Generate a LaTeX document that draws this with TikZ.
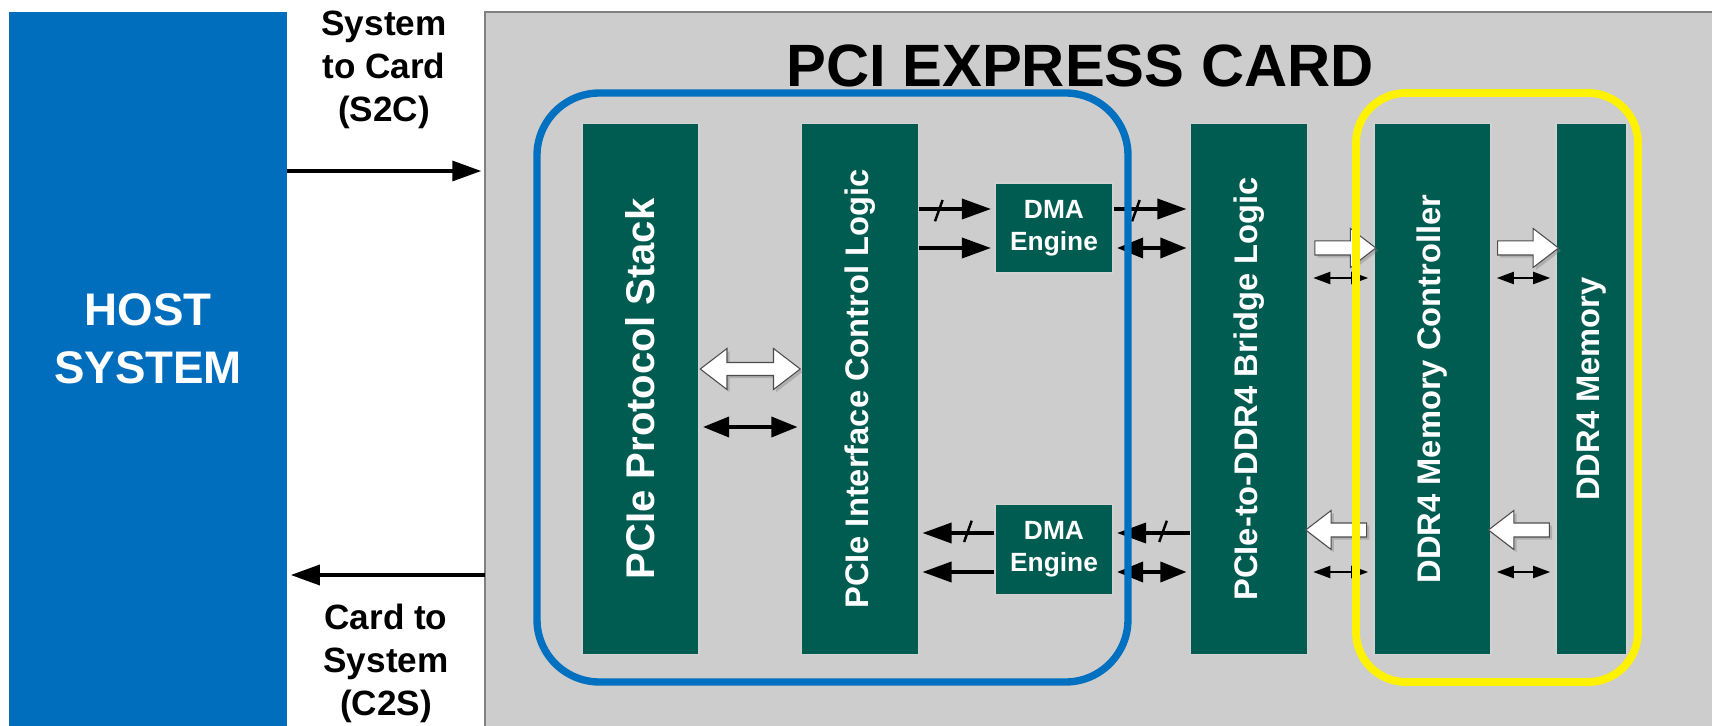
\documentclass[tikz,border=0pt]{standalone}
\usepackage{fontspec}
\setmainfont{Liberation Sans}
\usepackage{tikz}
\usetikzlibrary{arrows.meta,calc,shapes.arrows,shadows,decorations.markings}

\definecolor{hostblue}{RGB}{0,110,188}
\definecolor{frameblue}{RGB}{0,112,192}
\definecolor{cardgrey}{RGB}{205,205,205}
\definecolor{blockgreen}{RGB}{0,92,80}

\tikzset{
  blockv/.style={rectangle, fill=blockgreen, draw=gray!35, line width=0.6pt,
    text=white, font=\bfseries\fontsize{18.6}{22}\selectfont,
    minimum width=2.34cm, minimum height=10.64cm, inner sep=0pt},
  dmabox/.style={rectangle, fill=blockgreen, draw=gray!35, line width=0.6pt,
    text=white, font=\bfseries\fontsize{15}{18.2}\selectfont, align=center,
    minimum width=2.36cm, minimum height=1.8cm, inner sep=0pt},
  bus/.style={line width=2pt, -{Triangle[length=0.58cm,width=0.4cm]}, shorten >=2pt},
  dbus/.style={line width=2pt, {Triangle[length=0.52cm,width=0.4cm]}-{Triangle[length=0.52cm,width=0.4cm]},
    shorten >=2pt, shorten <=2pt},
  smallbus/.style={line width=1.2pt, {Triangle[length=0.34cm,width=0.24cm]}-{Triangle[length=0.34cm,width=0.24cm]},
    shorten >=3pt, shorten <=3pt},
  slashed/.style={postaction={decorate}, decoration={markings,
    mark=at position #1 with {\draw[line width=1.4pt,-] (-2.5pt,-7pt) -- (2.5pt,7pt);}}},
  fatarrow/.style={single arrow, draw=black!70, line width=0.6pt, fill=white,
    inner xsep=0pt, inner ysep=0.13cm, single arrow head extend=0.25cm,
    single arrow tip angle=75, minimum height=1.22cm,
    drop shadow={shadow xshift=1.5pt, shadow yshift=-1.5pt, opacity=0.4}},
  fatdouble/.style={double arrow, draw=black!70, line width=0.6pt, fill=white,
    inner xsep=0pt, inner ysep=0.12cm, double arrow head extend=0.28cm,
    double arrow tip angle=75, minimum height=2.0cm,
    drop shadow={shadow xshift=1.5pt, shadow yshift=-1.5pt, opacity=0.4}},
  flowlabel/.style={align=center, inner sep=0pt, font=\bfseries\fontsize{20}{24.5}\selectfont}
}

\begin{document}
\begin{tikzpicture}[x=0.02cm, y=-0.02cm]
  \useasboundingbox (0,0) rectangle (1712,726);
  % rows of the connectors
  \coordinate (s2c) at (0,171);
  \coordinate (c2s) at (0,575);
  \coordinate (r1) at (0,209);
  \coordinate (r2) at (0,248);
  \coordinate (r3) at (0,533);
  \coordinate (r4) at (0,572);
  \coordinate (r5) at (0,369);
  \coordinate (r6) at (0,427);
  \coordinate (r7) at (0,278);
  \coordinate (r8) at (0,530);
  % host and card
  \node[fill=hostblue, minimum width=5.56cm, minimum height=14.28cm, inner sep=0pt] (host) at (148,369) {};
  \node[align=center, text=white, inner sep=0pt, font=\bfseries\fontsize{26}{33}\selectfont] (hostlabel) at (148,339) {HOST\\SYSTEM};
  \node[fill=cardgrey, minimum width=24.54cm, minimum height=14.28cm, inner sep=0pt] (card) at (1098.5,369) {};
  \draw[gray, line width=1pt] (card.south west) -- (card.north west) -- (card.north east);
  \node[inner sep=0pt, font=\bfseries\fontsize{34}{40}\selectfont] (title) at (1080,66) {PCI EXPRESS CARD};
  % system <-> card
  \node[flowlabel] (s2clabel) at (384,70) {System\\to Card\\(S2C)};
  \node[flowlabel] (c2slabel) at (386,663) {Card to\\System\\(C2S)};
  \draw[bus] (host.east |- s2c) -- (card.west |- s2c);
  \draw[bus] (card.west |- c2s) -- (host.east |- c2s);
  % blocks
  \node[blockv, font=\bfseries\fontsize{22.8}{27}\selectfont] (stack) at (640.5,389) {\rotatebox{90}{PCIe Protocol Stack}};
  \node[blockv] (iface) at (860,389) {\rotatebox{90}{PCIe Interface Control Logic}};
  \node[blockv] (bridge) at (1249,389) {\rotatebox{90}{PCIe-to-DDR4 Bridge Logic}};
  \node[blockv] (ctrl) at (1432.5,389) {\rotatebox{90}{DDR4 Memory Controller}};
  \node[blockv, minimum width=1.42cm] (mem) at (1591.5,389) {\rotatebox{90}{DDR4 Memory}};
  \node[dmabox] (dmatop) at (1054,228) {DMA\\Engine};
  \node[dmabox] (dmabot) at (1054,549.5) {DMA\\Engine};
  % stack <-> interface
  \node[fatdouble] (wide) at ($(stack.east |- r5)!0.5!(iface.west |- r5)$) {};
  \draw[dbus] (stack.east |- r6) -- (iface.west |- r6);
  % DMA engines
  \draw[bus, slashed=0.27] (iface.east |- r1) -- (dmatop.west |- r1);
  \draw[bus] (iface.east |- r2) -- (dmatop.west |- r2);
  \draw[bus, slashed=0.3] (dmatop.east |- r1) -- (bridge.west |- r1);
  \draw[dbus] (dmatop.east |- r2) -- (bridge.west |- r2);
  \draw[bus, slashed=0.36] (dmabot.west |- r3) -- (iface.east |- r3);
  \draw[bus] (dmabot.west |- r4) -- (iface.east |- r4);
  \draw[bus, slashed=0.36] (bridge.west |- r3) -- (dmabot.east |- r3);
  \draw[dbus] (dmabot.east |- r4) -- (bridge.west |- r4);
  % memory side
  \node[fatarrow] (fat1) at ($(bridge.east |- r2)!0.5!(ctrl.west |- r2)$) {};
  \node[fatarrow] (fat2) at ($(ctrl.east |- r2)!0.5!(mem.west |- r2)$) {};
  \node[fatarrow, shape border rotate=180] (fat3) at ($(bridge.east |- r8)!0.5!(ctrl.west |- r8)$) {};
  \node[fatarrow, shape border rotate=180] (fat4) at ($(ctrl.east |- r8)!0.5!(mem.west |- r8)$) {};
  \draw[smallbus] (bridge.east |- r7) -- (ctrl.west |- r7);
  \draw[smallbus] (ctrl.east |- r7) -- (mem.west |- r7);
  \draw[smallbus] (bridge.east |- r4) -- (ctrl.west |- r4);
  \draw[smallbus] (ctrl.east |- r4) -- (mem.west |- r4);
  % frames
  \draw[frameblue, line width=4.2pt, rounded corners=1.25cm] (537,93) rectangle (1128,682);
  \draw[yellow, line width=4.5pt, rounded corners=1.0cm] (1356,93) rectangle (1638,682);
\end{tikzpicture}
\end{document}
